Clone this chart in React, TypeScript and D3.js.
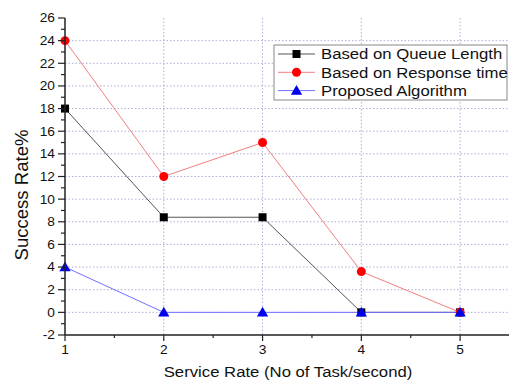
import React from "react";
import * as d3 from "d3";

const xValues = [1, 2, 3, 4, 5];
const queueLength = [18, 8.4, 8.4, 0, 0];
const responseTime = [24, 12, 15, 3.6, 0];
const proposed = [4, 0, 0, 0, 0];
const seriesNames = ["Based on Queue Length", "Based on Response time", "Proposed Algorithm"];
const yTicks = [-2, 0, 2, 4, 6, 8, 10, 12, 14, 16, 18, 20, 22, 24, 26];
const xTicks = [1, 2, 3, 4, 5];

const font = "Arial, 'Liberation Sans', sans-serif";
const SX = 1.1;

function T(props: { x: number; y: number; size: number; anchor?: string; dy?: string; children: any }) {
  return (
    <g transform={`translate(${props.x},${props.y}) scale(${SX},1)`}>
      <text x={0} y={0} dy={props.dy} textAnchor={props.anchor || "start"} fontFamily={font} fontSize={props.size} fill="#111">
        {props.children}
      </text>
    </g>
  );
}

export default function App() {
  const W = 509, H = 380;
  const x = d3.scaleLinear().domain([1, 5.5]).range([65, 509.5]);
  const y = d3.scaleLinear().domain([-2, 26]).range([335, 18]);
  const line = d3.line<number>().x((_, i) => x(xValues[i])).y((d) => y(d));
  const series = [
    { name: seriesNames[0], data: queueLength, line: "#555", fill: "#000", shape: "square" },
    { name: seriesNames[1], data: responseTime, line: "#f08080", fill: "#ff0000", shape: "circle" },
    { name: seriesNames[2], data: proposed, line: "#7070ff", fill: "#0000ee", shape: "triangle" },
  ];
  const marker = (shape: string, cx: number, cy: number, fill: string, key?: any) => {
    if (shape === "square") return <rect key={key} x={cx - 4} y={cy - 4} width={8} height={8} fill={fill} />;
    if (shape === "circle") return <circle key={key} cx={cx} cy={cy} r={4.5} fill={fill} />;
    const sym = d3.symbol(d3.symbolTriangle, 55)();
    return <path key={key} d={sym || ""} transform={`translate(${cx},${cy + 1})`} fill={fill} />;
  };
  const minorY = d3.range(-1, 26, 2);
  const minorX = [1.5, 2.5, 3.5, 4.5];
  return (
    <svg width={W} height={H} style={{ position: "absolute", left: 0, top: 0, background: "#fff" }}>
      {yTicks.filter((t) => t > -2 && t < 26).map((t) => (
        <line key={"gy" + t} x1={x(1)} x2={W} y1={y(t)} y2={y(t)} stroke="#9999cc" strokeWidth={0.8} strokeDasharray="1.5,2" />
      ))}
      {xTicks.filter((t) => t > 1).map((t) => (
        <line key={"gx" + t} x1={x(t)} x2={x(t)} y1={y(26)} y2={y(-2)} stroke="#9999cc" strokeWidth={0.8} strokeDasharray="1.5,2" />
      ))}
      {series.map((s) => (
        <path key={s.name} d={line(s.data) || ""} fill="none" stroke={s.line} strokeWidth={1} />
      ))}
      {series.map((s) => s.data.map((v, i) => marker(s.shape, x(xValues[i]), y(v), s.fill, s.name + i)))}
      <line x1={x(1)} x2={x(1)} y1={y(26)} y2={y(-2)} stroke="#222" strokeWidth={1.5} />
      <line x1={x(1)} x2={W} y1={y(-2)} y2={y(-2)} stroke="#222" strokeWidth={1.5} />
      {yTicks.map((t) => (
        <g key={"yt" + t}>
          <line x1={x(1) - 7} x2={x(1)} y1={y(t)} y2={y(t)} stroke="#222" strokeWidth={1.2} />
          <T x={x(1) - 10} y={y(t)} dy="0.35em" anchor="end" size={12.5}>{t}</T>
        </g>
      ))}
      {minorY.map((t) => (
        <line key={"my" + t} x1={x(1) - 4} x2={x(1)} y1={y(t)} y2={y(t)} stroke="#222" strokeWidth={1.2} />
      ))}
      {xTicks.map((t) => (
        <g key={"xt" + t}>
          <line x1={x(t)} x2={x(t)} y1={y(-2)} y2={y(-2) + 6} stroke="#222" strokeWidth={1.2} />
          <T x={x(t)} y={354} anchor="middle" size={12.5}>{t}</T>
        </g>
      ))}
      {minorX.map((t) => (
        <line key={"mx" + t} x1={x(t)} x2={x(t)} y1={y(-2)} y2={y(-2) + 3} stroke="#222" strokeWidth={1.2} />
      ))}
      <T x={288} y={377} anchor="middle" size={15.2}>Service Rate (No of Task/second)</T>
      <g transform={`translate(28,195) rotate(-90) scale(1.06,1)`}>
        <text x={0} y={0} textAnchor="middle" fontFamily={font} fontSize={17.5} fill="#111">Success Rate%</text>
      </g>
      <rect x={274} y={45} width={233} height={55} fill="#fff" stroke="#888" strokeWidth={1} />
      {series.map((s, i) => {
        const ly = 54 + i * 18.3;
        return (
          <g key={"lg" + i}>
            <line x1={278} x2={315} y1={ly} y2={ly} stroke={s.line} strokeWidth={1} />
            {marker(s.shape, 296.5, ly, s.fill)}
            <T x={321} y={ly} dy="0.36em" size={15.2}>{s.name}</T>
          </g>
        );
      })}
    </svg>
  );
}
